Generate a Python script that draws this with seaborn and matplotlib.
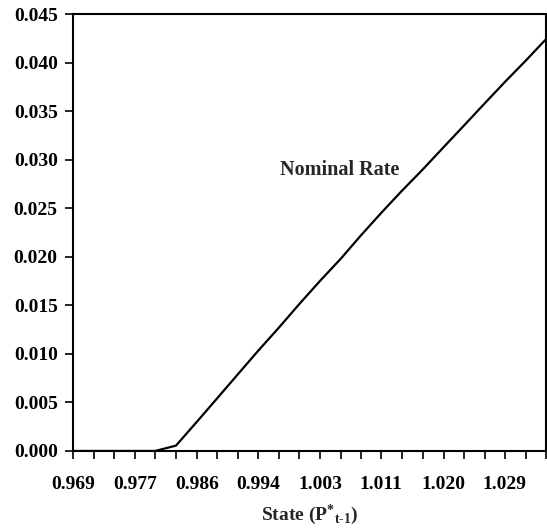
import seaborn as sns
import pandas as pd
import matplotlib.pyplot as plt
import matplotlib.ticker as mticker

# state grid (P*_{t-1}) and the nominal rate policy
state = [0.9686, 0.9715, 0.9743, 0.9772, 0.9800, 0.9829, 0.9858, 0.9886,
         0.9915, 0.9943, 0.9972, 1.0000, 1.0029, 1.0058, 1.0086, 1.0114,
         1.0143, 1.0172, 1.0201, 1.0229, 1.0258, 1.0286, 1.0315, 1.0343]
nominal_rate = [0.0, 0.0, 0.0, 0.0, 0.0, 0.00055, 0.0030, 0.0054,
                0.0079, 0.0103, 0.0127, 0.0151, 0.0175, 0.0198, 0.0222, 0.0245,
                0.0268, 0.0290, 0.0313, 0.0335, 0.0358, 0.0380, 0.0402, 0.0424]
y_ticks = [0.000, 0.005, 0.010, 0.015, 0.020, 0.025, 0.030, 0.035, 0.040, 0.045]

df = pd.DataFrame({"State": state, "Nominal Rate": nominal_rate})

sns.set_style("white")
plt.rcParams['font.family'] = ['Liberation Serif', 'DejaVu Serif']
plt.rcParams['font.weight'] = 'bold'
plt.rcParams['mathtext.fontset'] = 'custom'
plt.rcParams['mathtext.rm'] = 'Liberation Serif:bold'
plt.rcParams['mathtext.it'] = 'Liberation Serif:bold'
plt.rcParams['mathtext.bf'] = 'Liberation Serif:bold'

fig = plt.figure(figsize=(5.47, 5.31), dpi=100)
ax = fig.add_axes([0.1335, 0.1507, 0.8645, 0.8229])

sns.lineplot(data=df, x="State", y="Nominal Rate", color="black", linewidth=1.6, ax=ax)

ax.set_xlim(state[0], state[-1])
ax.set_ylim(0, 0.045)
ax.set_xticks(state)
ax.set_xticklabels([f"{v:.3f}" if i % 3 == 0 else "" for i, v in enumerate(state)])
ax.set_yticks(y_ticks)
ax.yaxis.set_major_formatter(mticker.FormatStrFormatter('%.3f'))

for s in ax.spines.values():
    s.set_color("black")
    s.set_linewidth(1.5)
ax.tick_params(axis='both', direction='out', length=6, width=1.2, colors='black',
               labelsize=14, bottom=True, left=True)
ax.tick_params(axis='x', pad=12)
ax.tick_params(axis='y', pad=5)
for lab in ax.get_xticklabels() + ax.get_yticklabels():
    lab.set_fontweight('bold')

ax.set_ylabel("")
ax.set_xlabel(r"State (P$^{*}{}_{\mathrm{t\text{-}1}}$)", fontsize=14, fontweight='bold', labelpad=7)
ax.text(1.0056, 0.0289, "Nominal Rate", fontsize=14.5, fontweight='bold', ha='center', va='center')

plt.savefig("out.png", dpi=100)
